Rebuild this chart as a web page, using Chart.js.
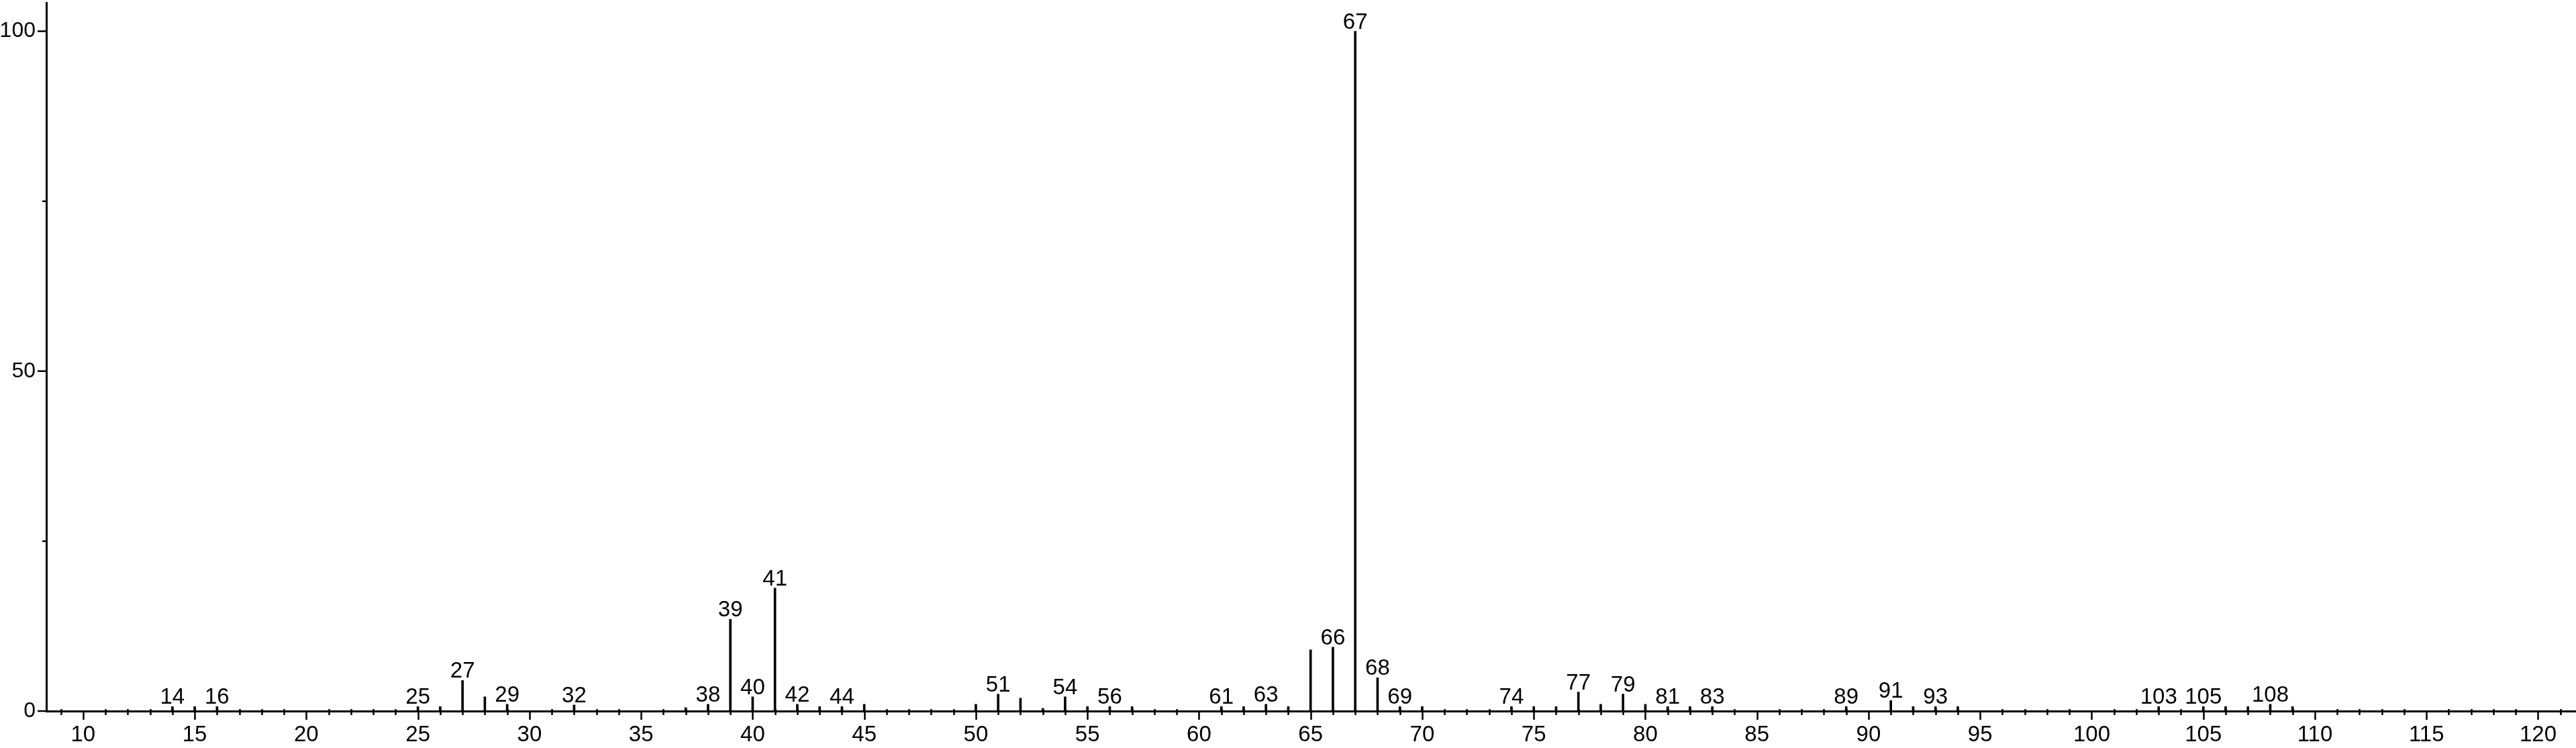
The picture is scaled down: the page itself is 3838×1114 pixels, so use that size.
<!DOCTYPE html>
<html>
<head>
<meta charset="utf-8">
<script src="https://cdn.jsdelivr.net/npm/chart.js@4.4.1/dist/chart.umd.min.js"></script>
<style>
html,body{margin:0;padding:0;background:#fff;overflow:hidden}
#wrap{width:3838px;height:1114px;position:relative}
</style>
</head>
<body>
<div id="wrap"><canvas id="c"></canvas></div>
<script>
// m/z values of the peaks
const masses = [14,15,16,25,26,27,28,29,32,37,38,39,40,41,42,43,44,45,50,51,52,53,54,55,56,57,61,62,63,64,65,66,67,68,69,70,74,75,76,77,78,79,80,81,82,83,89,91,92,93,94,103,105,106,107,108,109];
// relative intensities (%)
const intensities = [0.66,0.66,0.66,0.66,0.66,4.5,2.1,1.0,0.9,0.5,1.0,13.5,2.1,18.1,1.0,0.66,0.66,1.0,1.0,2.5,1.9,0.4,2.1,0.66,0.66,0.66,0.66,0.66,1.0,0.66,9.0,9.4,100,4.9,0.66,0.66,0.66,0.66,0.66,2.8,1.0,2.5,1.0,0.66,0.66,0.66,0.66,1.55,0.66,0.66,0.66,0.66,0.66,0.66,0.66,1.0,0.66];
// peaks that carry an m/z label
const labeledMasses = [14,16,25,27,29,32,38,39,40,41,42,44,51,54,56,61,63,66,67,68,69,74,77,79,81,83,89,91,93,103,105,108];
// axis ticks
const xTickValues = [10,15,20,25,30,35,40,45,50,55,60,65,70,75,80,85,90,95,100,105,110,115,120];
const xMinorStep = 1;
const yTickValues = [0,25,50,75,100];
const yTickLabels = ['0','','50','','100'];
const yMajorValues = [0,50,100];

const FONT = "'Liberation Sans', Arial, Helvetica, sans-serif";

const tickPlugin = {
  id: 'msTicks',
  afterDraw(chart) {
    const ctx = chart.ctx;
    const xs = chart.scales.x, ys = chart.scales.y;
    const y0 = ys.getPixelForValue(0);
    const xAxis = chart.chartArea.left;
    ctx.save();
    ctx.strokeStyle = '#000';
    ctx.lineWidth = 2.5;
    ctx.beginPath();
    for (let v = Math.ceil(xs.min); v <= Math.floor(xs.max); v += xMinorStep) {
      const px = Math.round(xs.getPixelForValue(v)) + 0.5;
      if (xTickValues.includes(v)) {
        ctx.moveTo(px, y0); ctx.lineTo(px, y0 + 13);
      } else {
        ctx.moveTo(px, y0 - 3); ctx.lineTo(px, y0 + 6);
      }
    }
    yTickValues.forEach(v => {
      const py = ys.getPixelForValue(v);
      const len = yMajorValues.includes(v) ? 13 : 6;
      ctx.moveTo(xAxis, py); ctx.lineTo(xAxis - len, py);
    });
    ctx.stroke();
    ctx.restore();
  },
  afterDatasetsDraw(chart) {
    const ctx = chart.ctx;
    const xs = chart.scales.x, ys = chart.scales.y;
    ctx.save();
    ctx.fillStyle = '#000';
    ctx.font = '33px ' + FONT;
    ctx.textAlign = 'center';
    ctx.textBaseline = 'alphabetic';
    labeledMasses.forEach(m => {
      const i = masses.indexOf(m);
      if (i < 0) return;
      const px = xs.getPixelForValue(m);
      const py = ys.getPixelForValue(intensities[i]);
      ctx.fillText(String(m), px, py - 4);
    });
    ctx.restore();
  }
};

new Chart(document.getElementById('c'), {
  type: 'bar',
  data: {
    datasets: [{
      data: masses.map((m, i) => ({x: m, y: intensities[i]})),
      backgroundColor: '#000',
      borderWidth: 0,
      barThickness: 3
    }]
  },
  options: {
    responsive: true,
    maintainAspectRatio: false,
    animation: false,
    layout: {padding: {top: 4, right: 0, left: 0, bottom: 0}},
    plugins: {legend: {display: false}, tooltip: {enabled: false}},
    scales: {
      x: {
        type: 'linear',
        offset: false,
        min: 8.35,
        max: 121.7,
        afterBuildTicks: s => { s.ticks = xTickValues.map(v => ({value: v})); },
        afterFit: s => { s.height = 55; s.paddingLeft = 0; s.paddingRight = 0; },
        grid: {display: false, drawTicks: false, offset: false},
        border: {display: true, color: '#000', width: 3},
        ticks: {
          autoSkip: false, maxRotation: 0, padding: 16, color: '#000',
          font: {family: FONT, size: 33},
          callback: v => String(v)
        }
      },
      y: {
        type: 'linear',
        min: 0,
        max: 104.2,
        afterBuildTicks: s => { s.ticks = yTickValues.map(v => ({value: v})); },
        afterFit: s => { s.width = 69; s.paddingTop = 0; s.paddingBottom = 0; },
        grid: {display: false, drawTicks: false},
        border: {display: true, color: '#000', width: 3},
        ticks: {
          autoSkip: false, padding: 16, color: '#000',
          font: {family: FONT, size: 32},
          callback: v => yTickLabels[yTickValues.indexOf(v)]
        }
      }
    }
  },
  plugins: [tickPlugin]
});
</script>
</body>
</html>
